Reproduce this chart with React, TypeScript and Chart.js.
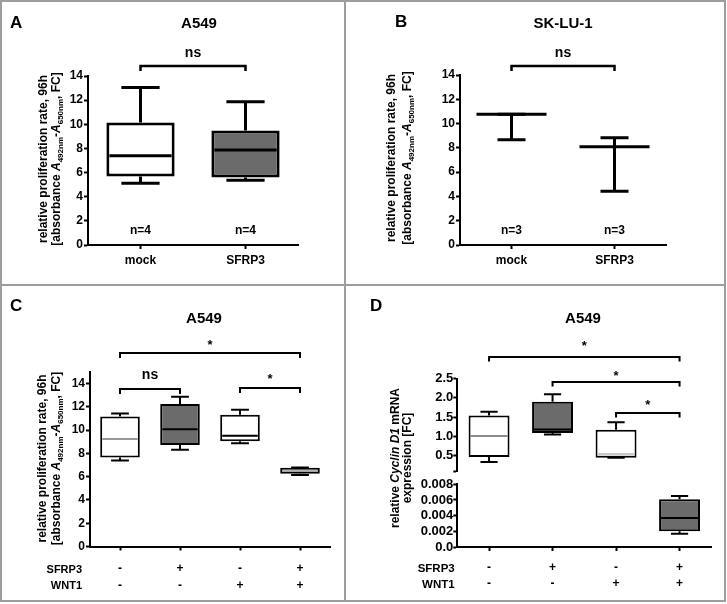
import React, { useEffect, useRef } from 'react';
import { Chart, registerables } from 'chart.js';

Chart.register(...registerables);

const FONT = "'Liberation Sans', Arial, Helvetica, sans-serif";
Chart.defaults.font.family = FONT;
Chart.defaults.color = '#000';

// ---------------- data ----------------
// Panel A – A549, box plots
const catsAB = ['mock', 'SFRP3'];
const ticksAB = [0, 2, 4, 6, 8, 10, 12, 14];
const aMin = [5.12, 5.37];
const aQ1 = [5.68, 5.59];
const aMedian = [7.4, 7.86];
const aQ3 = [10.14, 9.48];
const aMax = [13.05, 11.86];
const aN = ['n=4', 'n=4'];

// Panel B – SK-LU-1, centre line with error bars
const bMin = [8.66, 4.42];
const bCenter = [10.76, 8.1];
const bMax = [10.76, 8.83];
const bN = ['n=3', 'n=3'];

// Panels C / D – four conditions
const catsCD = [['-', '-'], ['+', '-'], ['-', '+'], ['+', '+']];
const rowLabels = ['SFRP3', 'WNT1'];
const ticksC = [0, 2, 4, 6, 8, 10, 12, 14];
const cMin = [7.4, 8.32, 8.87, 6.14];
const cQ1 = [7.66, 8.73, 9.05, 6.25];
const cMedian = [9.25, 10.08, 9.53, 6.51];
const cQ3 = [11.17, 12.25, 11.32, 6.77];
const cMax = [11.43, 12.88, 11.75, 6.8];

const dMin = [0.34, 1.05, 0.45, 0.0017];
const dQ1 = [0.47, 1.09, 0.45, 0.002];
const dMedian = [1.01, 1.18, 0.54, 0.0037];
const dQ3 = [1.54, 1.9, 1.17, 0.0061];
const dMax = [1.64, 2.09, 1.37, 0.0065];
const dSegment = ['upper', 'upper', 'upper', 'lower'];
const ticksDUpper = [0.5, 1.0, 1.5, 2.0, 2.5];
const ticksDLower = [0, 0.002, 0.004, 0.006, 0.008];

// significance labels
const sigA = [{ from: 0, to: 1, label: 'ns' }];
const sigB = [{ from: 0, to: 1, label: 'ns' }];
const sigC = [
  { from: 0, to: 3, label: '*' },
  { from: 0, to: 1, label: 'ns' },
  { from: 2, to: 3, label: '*' },
];
const sigD = [
  { from: 0, to: 3, label: '*' },
  { from: 1, to: 3, label: '*' },
  { from: 2, to: 3, label: '*' },
];

const yTitleProlif = [
  [{ t: 'relative proliferation rate, 96h' }],
  [
    { t: '[absorbance ' },
    { t: 'A', it: true },
    { t: '492nm', sub: true },
    { t: '-' },
    { t: 'A', it: true },
    { t: '650nm', sub: true },
    { t: ', FC]' },
  ],
];
const yTitleCyclin = [
  [{ t: 'relative ' }, { t: 'Cyclin D1', it: true }, { t: ' mRNA' }],
  [{ t: 'expression [FC]' }],
];

// ---------------- styles ----------------
const WHITE = '#ffffff';
const GREY = '#6b6b6b';
const CLEAR = 'rgba(0,0,0,0)';

// ---------------- plugins ----------------
const boxPlugin = {
  id: 'boxWhiskers',
  afterDatasetsDraw(chart: any, _a: any, opts: any) {
    const ctx = chart.ctx;
    chart.data.datasets.forEach((ds: any, di: number) => {
      const st = ds.stats;
      if (!st) return;
      const meta = chart.getDatasetMeta(di);
      const ys = chart.scales[meta.yAxisID];
      meta.data.forEach((el: any, i: number) => {
        const d = ds.data[i];
        if (!d) return;
        const { x, width } = el.getProps(['x', 'width'], true);
        const half = width / 2;
        const cap = (width * opts.capFrac) / 2;
        const pMin = ys.getPixelForValue(st.min[i]);
        const pMax = ys.getPixelForValue(st.max[i]);
        const pLo = ys.getPixelForValue(d[0]);
        const pHi = ys.getPixelForValue(d[1]);
        ctx.save();
        ctx.strokeStyle = '#000';
        ctx.lineWidth = opts.lineWidth;
        ctx.lineCap = 'butt';
        ctx.beginPath();
        ctx.moveTo(x, pHi);
        ctx.lineTo(x, pMax);
        ctx.moveTo(x - cap, pMax);
        ctx.lineTo(x + cap, pMax);
        ctx.moveTo(x, pLo);
        ctx.lineTo(x, pMin);
        ctx.moveTo(x - cap, pMin);
        ctx.lineTo(x + cap, pMin);
        ctx.stroke();
        const pm = ys.getPixelForValue(st.med[i]);
        ctx.strokeStyle = opts.medianColors[i];
        ctx.lineWidth = opts.medianWidths[i];
        ctx.beginPath();
        ctx.moveTo(x - half + opts.inset, pm);
        ctx.lineTo(x + half - opts.inset, pm);
        ctx.stroke();
        ctx.restore();
      });
    });
  },
};

function drawYTitle(ctx: any, lines: any[], xs: number[], cy: number, size: number) {
  lines.forEach((segs: any[], li: number) => {
    ctx.save();
    ctx.translate(xs[li], cy);
    ctx.rotate(-Math.PI / 2);
    const fontOf = (s: any) =>
      `${s.it ? 'italic ' : ''}bold ${s.sub ? Math.round(size * 0.68) : size}px ${FONT}`;
    let total = 0;
    for (const s of segs) {
      ctx.font = fontOf(s);
      total += ctx.measureText(s.t).width;
    }
    let px = -total / 2;
    ctx.textAlign = 'left';
    ctx.textBaseline = 'alphabetic';
    ctx.fillStyle = '#000';
    const base = size * 0.3;
    for (const s of segs) {
      ctx.font = fontOf(s);
      ctx.fillText(s.t, px, base + (s.sub ? size * 0.28 : 0));
      px += ctx.measureText(s.t).width;
    }
    ctx.restore();
  });
}

const annoPlugin = {
  id: 'panelAnno',
  afterDraw(chart: any, _a: any, o: any) {
    const ctx = chart.ctx;
    const xs = chart.scales.x;
    ctx.save();
    ctx.fillStyle = '#000';
    ctx.strokeStyle = '#000';
    ctx.textBaseline = 'alphabetic';
    for (const t of o.texts) {
      ctx.font = t.font;
      ctx.textAlign = t.align || 'center';
      ctx.fillText(t.t, t.x, t.y);
    }
    o.brackets.forEach((b: any, k: number) => {
      const pos = o.bracketPos[k];
      const x1 = xs.getPixelForValue(b.from);
      const x2 = xs.getPixelForValue(b.to);
      ctx.lineWidth = o.bracketWidth;
      ctx.lineCap = 'butt';
      ctx.lineJoin = 'miter';
      ctx.beginPath();
      ctx.moveTo(x1, pos.y + o.drop);
      ctx.lineTo(x1, pos.y);
      ctx.lineTo(x2, pos.y);
      ctx.lineTo(x2, pos.y + o.drop);
      ctx.stroke();
      ctx.font = b.label === '*' ? o.starFont : o.nsFont;
      ctx.textAlign = 'center';
      ctx.fillText(b.label, (x1 + x2) / 2 + (pos.dx || 0), pos.ly);
    });
    if (o.catTexts) {
      ctx.font = o.catTexts.font;
      ctx.textAlign = 'center';
      o.catTexts.labels.forEach((s: string, i: number) => {
        ctx.fillText(s, xs.getPixelForValue(i), o.catTexts.y);
      });
    }
    if (o.rows) {
      ctx.font = o.rows.font;
      ctx.textAlign = 'right';
      o.rows.labels.forEach((s: string, i: number) => ctx.fillText(s, o.rows.x, o.rows.ys[i]));
    }
    drawYTitle(ctx, o.yTitle.lines, o.yTitle.xs, o.yTitle.cy, o.yTitle.size);
    ctx.restore();
  },
};

// ---------------- builders ----------------
function boxDataset(
  q1: number[], q3: number[], min: number[], med: number[], max: number[],
  fills: string[], yAxisID: string, include: boolean[] | null, borderWidth: number, barPct: number,
) {
  return {
    type: 'bar',
    data: q1.map((v, i) => (include ? include[i] : true) ? [v, q3[i]] : null),
    stats: { min, med, max },
    backgroundColor: fills,
    borderColor: '#000',
    borderWidth,
    borderSkipped: false,
    barPercentage: barPct,
    categoryPercentage: 1,
    grouped: false,
    yAxisID,
  };
}

function xScale(size: number, lineHeight: number, padding: number, height: number) {
  return {
    type: 'category',
    offset: true,
    grid: {
      display: true, drawOnChartArea: false, drawTicks: true, tickLength: 4,
      tickWidth: 2, tickColor: '#000', color: '#000', offset: false,
    },
    border: { display: true, color: '#000', width: 2 },
    ticks: {
      font: { size, weight: 'bold', lineHeight }, color: '#000', padding,
      maxRotation: 0, minRotation: 0, autoSkip: false,
    },
    afterFit: (s: any) => { s.height = height; },
  };
}

function yScale(min: number, max: number, tickVals: number[], fmt: (v: number) => string,
  size: number, width: number, padding: number, extra: any = {}) {
  return {
    type: 'linear',
    position: 'left',
    min,
    max,
    grid: {
      display: true, drawOnChartArea: false, drawTicks: true, tickLength: 4,
      tickWidth: 2, tickColor: '#000', color: '#000',
    },
    border: { display: true, color: '#000', width: 2 },
    ticks: {
      font: { size, weight: 'bold' }, color: '#000', padding, autoSkip: false,
      callback: (v: number) => fmt(v),
    },
    afterBuildTicks: (s: any) => { s.ticks = tickVals.map((v) => ({ value: v })); },
    afterFit: (s: any) => { s.width = width; },
    ...extra,
  };
}

const commonOpts = {
  responsive: false,
  animation: false,
  events: [],
};

function basePlugins(extra: any) {
  return {
    legend: { display: false },
    tooltip: { enabled: false },
    title: { display: false },
    ...extra,
  };
}

const LETTER = `bold 17px ${FONT}`;
const TITLE = `bold 15px ${FONT}`;

function configA() {
  return {
    type: 'bar',
    data: {
      labels: catsAB,
      datasets: [boxDataset(aQ1, aQ3, aMin, aMedian, aMax, [WHITE, GREY], 'y', null, 3, 0.65)],
    },
    options: {
      ...commonOpts,
      layout: { padding: { left: 0, top: 74, right: 46, bottom: 0 } },
      plugins: basePlugins({
        boxWhiskers: { lineWidth: 3, capFrac: 0.56, inset: 3, medianColors: ['#000', '#000'], medianWidths: [3, 3] },
        panelAnno: {
          texts: [
            { t: 'A', x: 8, y: 26, font: LETTER, align: 'left' },
            { t: 'A549', x: 197, y: 26, font: TITLE },
          ],
          brackets: sigA,
          bracketPos: [{ y: 64, ly: 55 }],
          drop: 5,
          bracketWidth: 2.5,
          nsFont: `bold 14px ${FONT}`,
          starFont: `bold 13px ${FONT}`,
          catTexts: { labels: aN, y: 232, font: `bold 12px ${FONT}` },
          yTitle: { lines: yTitleProlif, xs: [41, 54], cy: 157, size: 12 },
        },
      }),
      scales: {
        x: xScale(12, 1.2, 4, 40),
        y: yScale(0, 14, ticksAB, (v) => String(v), 12, 86, 1),
      },
    },
    plugins: [boxPlugin, annoPlugin],
  };
}

function configB() {
  return {
    type: 'bar',
    data: {
      labels: catsAB,
      datasets: [boxDataset(bCenter, bCenter, bMin, bCenter, bMax, [CLEAR, CLEAR], 'y', null, 0, 0.68)],
    },
    options: {
      ...commonOpts,
      layout: { padding: { left: 0, top: 73, right: 58, bottom: 0 } },
      plugins: basePlugins({
        boxWhiskers: { lineWidth: 3, capFrac: 0.4, inset: 0, medianColors: ['#000', '#000'], medianWidths: [3, 3] },
        panelAnno: {
          texts: [
            { t: 'B', x: 49, y: 25, font: LETTER, align: 'left' },
            { t: 'SK-LU-1', x: 217, y: 26, font: TITLE },
          ],
          brackets: sigB,
          bracketPos: [{ y: 64, ly: 55 }],
          drop: 5,
          bracketWidth: 2.5,
          nsFont: `bold 14px ${FONT}`,
          starFont: `bold 13px ${FONT}`,
          catTexts: { labels: bN, y: 232, font: `bold 12px ${FONT}` },
          yTitle: { lines: yTitleProlif, xs: [45, 61], cy: 156, size: 12 },
        },
      }),
      scales: {
        x: xScale(12, 1.2, 4, 40),
        y: yScale(0, 14, ticksAB, (v) => String(v), 12, 114, 1),
      },
    },
    plugins: [boxPlugin, annoPlugin],
  };
}

function configC() {
  return {
    type: 'bar',
    data: {
      labels: catsCD,
      datasets: [boxDataset(cQ1, cQ3, cMin, cMedian, cMax, [WHITE, GREY, WHITE, GREY], 'y', null, 2, 0.66)],
    },
    options: {
      ...commonOpts,
      layout: { padding: { left: 0, top: 85, right: 14, bottom: 0 } },
      plugins: basePlugins({
        boxWhiskers: {
          lineWidth: 2, capFrac: 0.45, inset: 2,
          medianColors: ['#777', '#000', '#000', '#b0b0b0'], medianWidths: [1.5, 2, 2, 2],
        },
        panelAnno: {
          texts: [
            { t: 'C', x: 8, y: 24, font: LETTER, align: 'left' },
            { t: 'A549', x: 202, y: 36, font: TITLE },
          ],
          brackets: sigC,
          bracketPos: [{ y: 66, ly: 62 }, { y: 102, ly: 92 }, { y: 101, ly: 96 }],
          drop: 5,
          bracketWidth: 2,
          nsFont: `bold 14px ${FONT}`,
          starFont: `bold 13px ${FONT}`,
          rows: { labels: rowLabels, x: 80, ys: [286, 302], font: `bold 11px ${FONT}` },
          yTitle: { lines: yTitleProlif, xs: [40.5, 54], cy: 171.5, size: 12 },
        },
      }),
      scales: {
        x: xScale(12, 1.4, 9.5, 53.5),
        y: yScale(0, 15, ticksC, (v) => String(v), 12, 88, 1),
      },
    },
    plugins: [boxPlugin, annoPlugin],
  };
}

function configD() {
  const upper = dSegment.map((s) => s === 'upper');
  const lower = dSegment.map((s) => s === 'lower');
  const fills = [WHITE, GREY, WHITE, GREY];
  return {
    type: 'bar',
    data: {
      labels: catsCD,
      datasets: [
        boxDataset(dQ1, dQ3, dMin, dMedian, dMax, fills, 'yUpper', upper, 2, 0.645),
        boxDataset(dQ1, dQ3, dMin, dMedian, dMax, fills, 'yLower', lower, 2, 0.645),
      ],
    },
    options: {
      ...commonOpts,
      layout: { padding: { left: 0, top: 91.5, right: 12.7, bottom: 0 } },
      plugins: basePlugins({
        boxWhiskers: {
          lineWidth: 2, capFrac: 0.42, inset: 2,
          medianColors: ['#666', '#000', '#c8c8c8', '#000'], medianWidths: [1.5, 2, 2.5, 2],
        },
        panelAnno: {
          texts: [
            { t: 'D', x: 24, y: 24, font: LETTER, align: 'left' },
            { t: 'A549', x: 237, y: 36, font: TITLE },
          ],
          brackets: sigD,
          bracketPos: [{ y: 70, ly: 63 }, { y: 95, ly: 93 }, { y: 126, ly: 122 }],
          drop: 4.5,
          bracketWidth: 2,
          nsFont: `bold 14px ${FONT}`,
          starFont: `bold 13px ${FONT}`,
          rows: { labels: rowLabels, x: 108.7, ys: [285, 301], font: `bold 11.5px ${FONT}` },
          yTitle: { lines: yTitleCyclin, xs: [49, 61], cy: 171, size: 12 },
        },
      }),
      scales: {
        x: xScale(12, 1.3, 9, 53),
        yLower: yScale(0, 0.008, ticksDLower, (v) => (v === 0 ? '0.0' : v.toFixed(3)), 13, 111.3, 0,
          { stack: 'broken', stackWeight: 62.7 }),
        yGap: {
          type: 'linear', position: 'left', min: 0, max: 1, display: false,
          stack: 'broken', stackWeight: 12.6,
        },
        yUpper: yScale(0.087, 2.5, [0.087, ...ticksDUpper],
          (v) => (ticksDUpper.includes(v) ? v.toFixed(1) : ''), 13, 111.3, 0,
          { stack: 'broken', stackWeight: 93.2 }),
      },
    },
    plugins: [boxPlugin, annoPlugin],
  };
}

const PANELS = [
  { key: 'A', left: 2, top: 2, w: 342, h: 283, cfg: configA },
  { key: 'B', left: 346, top: 2, w: 378, h: 283, cfg: configB },
  { key: 'C', left: 2, top: 287, w: 342, h: 313, cfg: configC },
  { key: 'D', left: 346, top: 287, w: 378, h: 313, cfg: configD },
];

const LINE = '#9d9d9d';

export default function App() {
  const refs = [useRef<HTMLCanvasElement>(null), useRef<HTMLCanvasElement>(null),
    useRef<HTMLCanvasElement>(null), useRef<HTMLCanvasElement>(null)];

  useEffect(() => {
    const charts = PANELS.map((p, i) => new Chart(refs[i].current as any, p.cfg() as any));
    return () => charts.forEach((c) => c.destroy());
  }, []);

  const line = (l: number, t: number, w: number, h: number, k: string) => (
    <div key={k} style={{ position: 'absolute', left: l, top: t, width: w, height: h, background: LINE }} />
  );

  return (
    <div style={{ position: 'absolute', left: 0, top: 0, width: 727, height: 604, background: '#fff', overflow: 'hidden' }}>
      {PANELS.map((p, i) => (
        <canvas
          key={p.key}
          ref={refs[i]}
          width={p.w}
          height={p.h}
          style={{ position: 'absolute', left: p.left, top: p.top, width: p.w, height: p.h }}
        />
      ))}
      {line(0, 0, 726, 2, 't')}
      {line(0, 600, 726, 2, 'b')}
      {line(0, 0, 2, 602, 'l')}
      {line(724, 0, 2, 602, 'r')}
      {line(344, 0, 2, 602, 'v')}
      {line(0, 284, 726, 2, 'h')}
    </div>
  );
}
